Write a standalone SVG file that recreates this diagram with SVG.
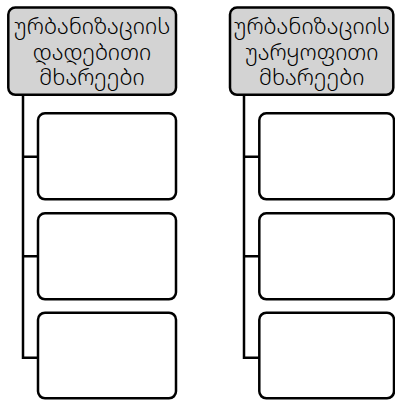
<svg xmlns="http://www.w3.org/2000/svg" width="395" height="401" viewBox="0 0 395 401">
<style>
.hdr{fill:#d3d3d3;stroke:#000;stroke-width:2.5}
.box{fill:#fff;stroke:#000;stroke-width:2.5}
.con{fill:none;stroke:#000;stroke-width:2.5}
text{font-family:"Noto Sans Georgian","DejaVu Sans",sans-serif;font-weight:320;font-size:22px;text-anchor:middle;fill:#000}
</style>
<rect width="395" height="401" fill="#fff"/>
<g id="connectors">
<path class="con" d="M23,95 V357.7 H38 M23,156.7 H38 M23,256.3 H38"/>
<path class="con" d="M244,95 V357.7 H259 M244,156.7 H259 M244,256.3 H259"/>
</g>
<g id="left-header">
<rect class="hdr" x="8.3" y="7.5" width="167.7" height="87.3" rx="7"/>
<text x="92" y="34"><tspan x="92" y="34">ურბანიზაციის</tspan><tspan x="92" y="59.5">დადებითი</tspan><tspan x="92" y="85">მხარეები</tspan></text>
</g>
<g id="left-box-1"><rect class="box" x="38" y="113.3" width="138" height="86" rx="7"/></g>
<g id="left-box-2"><rect class="box" x="38" y="213.3" width="138" height="86" rx="7"/></g>
<g id="left-box-3"><rect class="box" x="38" y="312.7" width="138" height="85.6" rx="7"/></g>
<g id="right-header">
<rect class="hdr" x="230" y="7.5" width="163.3" height="87.3" rx="7"/>
<text x="311.7" y="34"><tspan x="311.7" y="34">ურბანიზაციის</tspan><tspan x="311.7" y="59.5">უარყოფითი</tspan><tspan x="311.7" y="85">მხარეები</tspan></text>
</g>
<g id="right-box-1"><rect class="box" x="259.3" y="113.3" width="134.7" height="86" rx="7"/></g>
<g id="right-box-2"><rect class="box" x="259.3" y="213.3" width="134.7" height="86" rx="7"/></g>
<g id="right-box-3"><rect class="box" x="259.3" y="312.7" width="134.7" height="85.6" rx="7"/></g>
</svg>
